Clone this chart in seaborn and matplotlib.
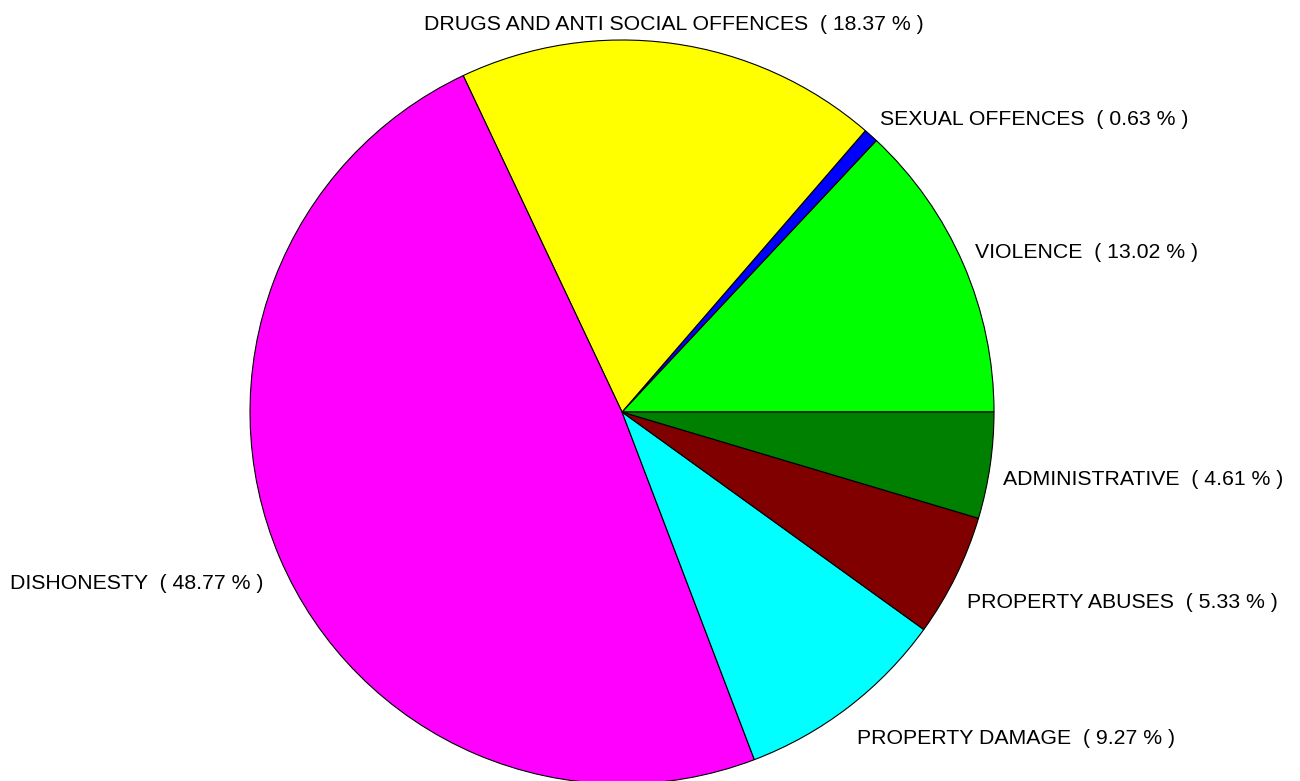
import numpy as np
import matplotlib
matplotlib.use('Agg')
import matplotlib.pyplot as plt
import seaborn as sns

sns.set_style('white')
plt.rcParams['font.family'] = ['Liberation Sans', 'DejaVu Sans']

categories = ['VIOLENCE', 'SEXUAL OFFENCES', 'DRUGS AND ANTI SOCIAL OFFENCES', 'DISHONESTY',
              'PROPERTY DAMAGE', 'PROPERTY ABUSES', 'ADMINISTRATIVE']
shares = [13.02, 0.63, 18.37, 48.77, 9.27, 5.33, 4.61]
colors = ['#00FF00', '#0000FF', '#FFFF00', '#FF00FF', '#00FFFF', '#800000', '#008000']

R_PX = 372  # pie radius in pixels

fig = plt.figure(figsize=(13, 7.81), dpi=100)
ax = fig.add_axes([0, 0, 1, 1])

wedges, _ = ax.pie(shares, colors=colors, startangle=0, counterclock=True,
                   wedgeprops={'edgecolor': 'black', 'linewidth': 0.8})

# labels outside the pie, at the middle angle of each slice
for w, cat, val in zip(wedges, categories, shares):
    ang = np.deg2rad((w.theta1 + w.theta2) / 2)
    x, y = 1.035 * np.cos(ang), 1.035 * np.sin(ang)
    if abs(np.cos(ang)) < 0.2:
        ha = 'center'
    else:
        ha = 'left' if x > 0 else 'right'
    if y > 0:
        dy = 6
    else:
        dy = -7 - 14 * min(1, abs(np.sin(ang)) / 0.4)
    if x < 0:
        x -= 4 / R_PX
    ax.text(x, y + dy / R_PX, f'{cat}  ( {val:.2f} % )', ha=ha, va='center',
            fontsize=15.3, color='black')

ax.set_aspect('equal')
ax.set_xlim(-622 / R_PX, 678 / R_PX)
ax.set_ylim(-369 / R_PX, 412 / R_PX)
ax.axis('off')

fig.savefig('out.png', dpi=100)
